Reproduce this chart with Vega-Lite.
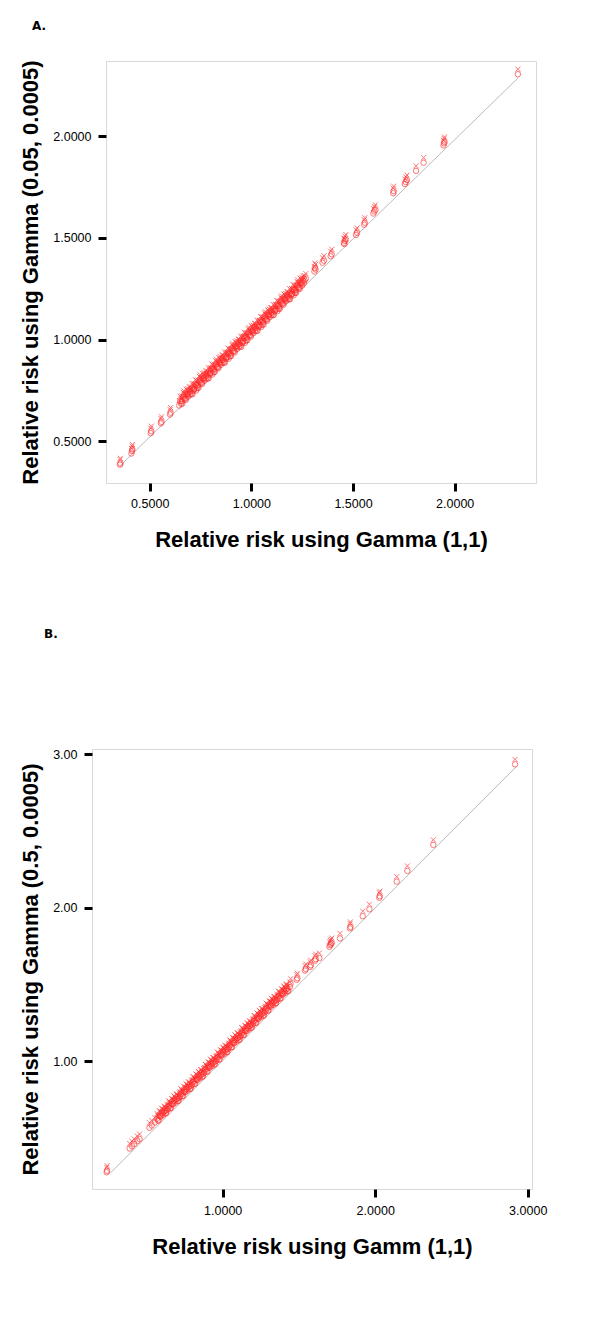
{
  "$schema": "https://vega.github.io/schema/vega-lite/v6.json",
  "background": "white",
  "padding": {"left": 18, "top": 19, "right": 5, "bottom": 5},
  "config": {
    "view": {"stroke": "#d9d9d9", "strokeWidth": 1},
    "axis": {"domain": false, "grid": false, "tickColor": "black", "tickWidth": 3, "tickSize": 8, "labelFont": "Liberation Sans", "labelFontSize": 12.5, "labelColor": "black", "titleFont": "Liberation Sans", "titleFontSize": 22, "titleFontWeight": "bold", "titleColor": "black"},
    "title": {"font": "DejaVu Sans", "fontSize": 12, "fontWeight": "bold", "anchor": "start", "frame": "group", "color": "black"}
  },
  "datasets": {
    "lineA": [{"x": 0.354, "y": 0.379}, {"x": 2.311, "y": 2.286}],
    "lineB": [{"x": 0.261, "y": 0.268}, {"x": 2.923, "y": 2.917}],
    "ptsA": [
      {"x":0.354,"y":0.385},{"x":0.356,"y":0.392},{"x":0.41,"y":0.44},{"x":0.413,"y":0.452},{"x":0.415,"y":0.46},
      {"x":0.505,"y":0.54},{"x":0.508,"y":0.55},{"x":0.555,"y":0.588},{"x":0.558,"y":0.596},{"x":0.6,"y":0.632},{"x":0.603,"y":0.641},{"x":0.645,"y":0.676},
      {"x":0.65,"y":0.697},{"x":0.655,"y":0.684},{"x":0.66,"y":0.685},{"x":0.665,"y":0.716},{"x":0.67,"y":0.711},{"x":0.675,"y":0.71},
      {"x":0.68,"y":0.732},{"x":0.685,"y":0.727},{"x":0.69,"y":0.72},{"x":0.695,"y":0.743},{"x":0.7,"y":0.744},{"x":0.705,"y":0.731},
      {"x":0.71,"y":0.732},{"x":0.715,"y":0.751},{"x":0.72,"y":0.757},{"x":0.725,"y":0.778},{"x":0.73,"y":0.775},{"x":0.735,"y":0.762},
      {"x":0.74,"y":0.763},{"x":0.745,"y":0.794},{"x":0.75,"y":0.789},{"x":0.755,"y":0.788},{"x":0.76,"y":0.81},{"x":0.765,"y":0.805},
      {"x":0.77,"y":0.798},{"x":0.775,"y":0.821},{"x":0.78,"y":0.822},{"x":0.785,"y":0.809},{"x":0.79,"y":0.81},{"x":0.795,"y":0.829},
      {"x":0.8,"y":0.835},{"x":0.805,"y":0.856},{"x":0.81,"y":0.853},{"x":0.815,"y":0.84},{"x":0.82,"y":0.841},{"x":0.825,"y":0.872},
      {"x":0.83,"y":0.866},{"x":0.835,"y":0.865},{"x":0.84,"y":0.888},{"x":0.845,"y":0.883},{"x":0.85,"y":0.876},{"x":0.855,"y":0.899},
      {"x":0.86,"y":0.9},{"x":0.865,"y":0.887},{"x":0.87,"y":0.887},{"x":0.875,"y":0.906},{"x":0.88,"y":0.913},{"x":0.885,"y":0.934},
      {"x":0.89,"y":0.931},{"x":0.895,"y":0.918},{"x":0.9,"y":0.919},{"x":0.905,"y":0.95},{"x":0.91,"y":0.944},{"x":0.915,"y":0.943},
      {"x":0.92,"y":0.966},{"x":0.925,"y":0.961},{"x":0.93,"y":0.954},{"x":0.935,"y":0.977},{"x":0.94,"y":0.978},{"x":0.945,"y":0.965},
      {"x":0.95,"y":0.965},{"x":0.955,"y":0.984},{"x":0.96,"y":0.991},{"x":0.965,"y":1.012},{"x":0.97,"y":1.009},{"x":0.975,"y":0.996},
      {"x":0.98,"y":0.997},{"x":0.985,"y":1.028},{"x":0.99,"y":1.022},{"x":0.995,"y":1.021},{"x":1.0,"y":1.044},{"x":1.005,"y":1.039},
      {"x":1.01,"y":1.032},{"x":1.015,"y":1.055},{"x":1.02,"y":1.056},{"x":1.025,"y":1.043},{"x":1.03,"y":1.043},{"x":1.035,"y":1.062},
      {"x":1.04,"y":1.069},{"x":1.045,"y":1.09},{"x":1.05,"y":1.087},{"x":1.055,"y":1.074},{"x":1.06,"y":1.074},{"x":1.065,"y":1.105},
      {"x":1.07,"y":1.1},{"x":1.075,"y":1.099},{"x":1.08,"y":1.122},{"x":1.085,"y":1.117},{"x":1.09,"y":1.11},{"x":1.095,"y":1.133},
      {"x":1.1,"y":1.133},{"x":1.105,"y":1.12},{"x":1.11,"y":1.121},{"x":1.115,"y":1.14},{"x":1.12,"y":1.147},{"x":1.125,"y":1.168},
      {"x":1.13,"y":1.165},{"x":1.135,"y":1.152},{"x":1.14,"y":1.152},{"x":1.145,"y":1.183},{"x":1.15,"y":1.178},{"x":1.155,"y":1.177},
      {"x":1.16,"y":1.2},{"x":1.165,"y":1.195},{"x":1.17,"y":1.188},{"x":1.175,"y":1.211},{"x":1.18,"y":1.211},{"x":1.185,"y":1.198},
      {"x":1.19,"y":1.199},{"x":1.195,"y":1.218},{"x":1.2,"y":1.225},{"x":1.205,"y":1.246},{"x":1.21,"y":1.243},{"x":1.215,"y":1.23},
      {"x":1.22,"y":1.23},{"x":1.225,"y":1.261},{"x":1.23,"y":1.256},{"x":1.235,"y":1.255},{"x":1.24,"y":1.278},{"x":1.245,"y":1.273},
      {"x":1.25,"y":1.266},{"x":1.255,"y":1.289},
      {"x":0.658,"y":0.698},{"x":0.668,"y":0.724},{"x":0.678,"y":0.704},{"x":0.688,"y":0.735},{"x":0.698,"y":0.731},{"x":0.708,"y":0.759},
      {"x":0.718,"y":0.759},{"x":0.728,"y":0.75},{"x":0.738,"y":0.776},{"x":0.748,"y":0.802},{"x":0.758,"y":0.782},{"x":0.768,"y":0.813},
      {"x":0.778,"y":0.809},{"x":0.788,"y":0.837},{"x":0.798,"y":0.837},{"x":0.808,"y":0.828},{"x":0.818,"y":0.854},{"x":0.828,"y":0.88},
      {"x":0.838,"y":0.859},{"x":0.848,"y":0.891},{"x":0.858,"y":0.887},{"x":0.868,"y":0.915},{"x":0.878,"y":0.914},{"x":0.888,"y":0.906},
      {"x":0.898,"y":0.932},{"x":0.908,"y":0.958},{"x":0.918,"y":0.937},{"x":0.928,"y":0.969},{"x":0.938,"y":0.965},{"x":0.948,"y":0.993},
      {"x":0.958,"y":0.992},{"x":0.968,"y":0.984},{"x":0.978,"y":1.01},{"x":0.988,"y":1.036},{"x":0.998,"y":1.015},{"x":1.008,"y":1.047},
      {"x":1.018,"y":1.043},{"x":1.028,"y":1.071},{"x":1.038,"y":1.07},{"x":1.048,"y":1.062},{"x":1.058,"y":1.088},{"x":1.068,"y":1.113},
      {"x":1.078,"y":1.093},{"x":1.088,"y":1.125},{"x":1.098,"y":1.121},{"x":1.108,"y":1.148},{"x":1.118,"y":1.148},{"x":1.128,"y":1.14},
      {"x":1.138,"y":1.166},{"x":1.148,"y":1.191},{"x":1.158,"y":1.171},{"x":1.168,"y":1.203},{"x":1.178,"y":1.199},{"x":1.188,"y":1.226},
      {"x":1.198,"y":1.226},{"x":1.208,"y":1.218},{"x":1.218,"y":1.244},{"x":1.228,"y":1.269},{"x":1.238,"y":1.249},{"x":1.248,"y":1.281},
      {"x":1.258,"y":1.277},
      {"x":1.262,"y":1.29},{"x":1.268,"y":1.3},{"x":1.31,"y":1.335},{"x":1.316,"y":1.345},{"x":1.312,"y":1.352},
      {"x":1.35,"y":1.378},{"x":1.357,"y":1.388},{"x":1.39,"y":1.41},{"x":1.395,"y":1.42},
      {"x":1.455,"y":1.475},{"x":1.46,"y":1.485},{"x":1.465,"y":1.492},{"x":1.458,"y":1.47},
      {"x":1.515,"y":1.515},{"x":1.52,"y":1.525},{"x":1.555,"y":1.565},{"x":1.558,"y":1.575},
      {"x":1.6,"y":1.62},{"x":1.605,"y":1.63},{"x":1.61,"y":1.638},{"x":1.698,"y":1.72},{"x":1.7,"y":1.73},
      {"x":1.755,"y":1.765},{"x":1.76,"y":1.775},{"x":1.765,"y":1.785},{"x":1.81,"y":1.83},{"x":1.847,"y":1.87},
      {"x":1.945,"y":1.955},{"x":1.948,"y":1.965},{"x":1.95,"y":1.972},{"x":2.311,"y":2.305}
    ],
    "ptsB": [
      {"x":0.239,"y":0.275},{"x":0.242,"y":0.285},
      {"x":0.39,"y":0.43},{"x":0.405,"y":0.445},{"x":0.42,"y":0.46},{"x":0.44,"y":0.478},{"x":0.455,"y":0.492},
      {"x":0.52,"y":0.565},{"x":0.535,"y":0.58},{"x":0.555,"y":0.6},
      {"x":0.57,"y":0.625},{"x":0.575,"y":0.612},{"x":0.58,"y":0.613},{"x":0.59,"y":0.639},{"x":0.595,"y":0.638},{"x":0.6,"y":0.661},
      {"x":0.61,"y":0.649},{"x":0.615,"y":0.672},{"x":0.62,"y":0.673},{"x":0.63,"y":0.661},{"x":0.635,"y":0.68},{"x":0.64,"y":0.687},
      {"x":0.65,"y":0.705},{"x":0.655,"y":0.692},{"x":0.66,"y":0.693},{"x":0.67,"y":0.719},{"x":0.675,"y":0.718},{"x":0.68,"y":0.741},
      {"x":0.69,"y":0.729},{"x":0.695,"y":0.752},{"x":0.7,"y":0.753},{"x":0.71,"y":0.741},{"x":0.715,"y":0.76},{"x":0.72,"y":0.767},
      {"x":0.73,"y":0.784},{"x":0.735,"y":0.771},{"x":0.74,"y":0.772},{"x":0.75,"y":0.798},{"x":0.755,"y":0.797},{"x":0.76,"y":0.82},
      {"x":0.77,"y":0.808},{"x":0.775,"y":0.831},{"x":0.78,"y":0.832},{"x":0.79,"y":0.82},{"x":0.795,"y":0.839},{"x":0.8,"y":0.846},
      {"x":0.81,"y":0.864},{"x":0.815,"y":0.851},{"x":0.82,"y":0.852},{"x":0.83,"y":0.878},{"x":0.835,"y":0.877},{"x":0.84,"y":0.9},
      {"x":0.85,"y":0.888},{"x":0.855,"y":0.911},{"x":0.86,"y":0.912},{"x":0.87,"y":0.9},{"x":0.875,"y":0.919},{"x":0.88,"y":0.926},
      {"x":0.89,"y":0.944},{"x":0.895,"y":0.931},{"x":0.9,"y":0.932},{"x":0.91,"y":0.958},{"x":0.915,"y":0.957},{"x":0.92,"y":0.98},
      {"x":0.93,"y":0.967},{"x":0.935,"y":0.99},{"x":0.94,"y":0.991},{"x":0.95,"y":0.979},{"x":0.955,"y":0.998},{"x":0.96,"y":1.005},
      {"x":0.97,"y":1.023},{"x":0.975,"y":1.01},{"x":0.98,"y":1.011},{"x":0.99,"y":1.037},{"x":0.995,"y":1.036},{"x":1.0,"y":1.059},
      {"x":1.01,"y":1.047},{"x":1.015,"y":1.07},{"x":1.02,"y":1.071},{"x":1.03,"y":1.059},{"x":1.035,"y":1.078},{"x":1.04,"y":1.085},
      {"x":1.05,"y":1.103},{"x":1.055,"y":1.09},{"x":1.06,"y":1.091},{"x":1.07,"y":1.117},{"x":1.075,"y":1.116},{"x":1.08,"y":1.139},
      {"x":1.09,"y":1.127},{"x":1.095,"y":1.15},{"x":1.1,"y":1.151},{"x":1.11,"y":1.139},{"x":1.115,"y":1.158},{"x":1.12,"y":1.165},
      {"x":1.13,"y":1.183},{"x":1.135,"y":1.17},{"x":1.14,"y":1.17},{"x":1.15,"y":1.196},{"x":1.155,"y":1.195},{"x":1.16,"y":1.218},
      {"x":1.17,"y":1.206},{"x":1.175,"y":1.229},{"x":1.18,"y":1.23},{"x":1.19,"y":1.218},{"x":1.195,"y":1.237},{"x":1.2,"y":1.244},
      {"x":1.21,"y":1.262},{"x":1.215,"y":1.249},{"x":1.22,"y":1.25},{"x":1.23,"y":1.276},{"x":1.235,"y":1.275},{"x":1.24,"y":1.298},
      {"x":1.25,"y":1.286},{"x":1.255,"y":1.309},{"x":1.26,"y":1.31},{"x":1.27,"y":1.298},{"x":1.275,"y":1.317},{"x":1.28,"y":1.324},
      {"x":1.29,"y":1.342},{"x":1.295,"y":1.329},{"x":1.3,"y":1.33},{"x":1.31,"y":1.356},{"x":1.315,"y":1.355},{"x":1.32,"y":1.378},
      {"x":1.33,"y":1.366},{"x":1.335,"y":1.389},{"x":1.34,"y":1.389},{"x":1.35,"y":1.377},{"x":1.355,"y":1.396},{"x":1.36,"y":1.403},
      {"x":1.37,"y":1.421},{"x":1.375,"y":1.408},{"x":1.38,"y":1.409},{"x":1.39,"y":1.435},{"x":1.395,"y":1.434},{"x":1.4,"y":1.457},
      {"x":1.41,"y":1.445},{"x":1.415,"y":1.468},{"x":1.42,"y":1.469},{"x":1.43,"y":1.457},{"x":1.44,"y":1.483},
      {"x":0.585,"y":0.644},{"x":0.605,"y":0.656},{"x":0.625,"y":0.66},{"x":0.645,"y":0.708},{"x":0.665,"y":0.724},{"x":0.685,"y":0.736},
      {"x":0.705,"y":0.74},{"x":0.725,"y":0.788},{"x":0.745,"y":0.803},{"x":0.765,"y":0.815},{"x":0.785,"y":0.819},{"x":0.805,"y":0.867},
      {"x":0.825,"y":0.883},{"x":0.845,"y":0.895},{"x":0.865,"y":0.899},{"x":0.885,"y":0.947},{"x":0.905,"y":0.963},{"x":0.925,"y":0.975},
      {"x":0.945,"y":0.978},{"x":0.965,"y":1.026},{"x":0.985,"y":1.042},{"x":1.005,"y":1.054},{"x":1.025,"y":1.058},{"x":1.045,"y":1.106},
      {"x":1.065,"y":1.122},{"x":1.085,"y":1.134},{"x":1.105,"y":1.138},{"x":1.125,"y":1.186},{"x":1.145,"y":1.201},{"x":1.165,"y":1.213},
      {"x":1.185,"y":1.217},{"x":1.205,"y":1.265},{"x":1.225,"y":1.281},{"x":1.245,"y":1.293},{"x":1.265,"y":1.297},{"x":1.285,"y":1.345},
      {"x":1.305,"y":1.361},{"x":1.325,"y":1.373},{"x":1.345,"y":1.376},{"x":1.365,"y":1.424},{"x":1.385,"y":1.44},{"x":1.405,"y":1.452},
      {"x":1.425,"y":1.456},{"x":1.445,"y":1.504},
      {"x":1.485,"y":1.53},{"x":1.49,"y":1.54},{"x":1.54,"y":1.59},{"x":1.545,"y":1.6},{"x":1.573,"y":1.615},{"x":1.578,"y":1.625},
      {"x":1.605,"y":1.655},{"x":1.61,"y":1.665},{"x":1.634,"y":1.672},
      {"x":1.7,"y":1.745},{"x":1.705,"y":1.755},{"x":1.71,"y":1.762},{"x":1.715,"y":1.77},{"x":1.769,"y":1.8},
      {"x":1.835,"y":1.865},{"x":1.838,"y":1.875},{"x":1.918,"y":1.945},{"x":1.962,"y":1.99},
      {"x":2.027,"y":2.065},{"x":2.03,"y":2.075},{"x":2.141,"y":2.17},{"x":2.211,"y":2.24},{"x":2.381,"y":2.41},{"x":2.917,"y":2.935}
    ]
  },
  "vconcat": [
    {
      "spacing": 0,
      "hconcat": [
        {"width": 1, "height": 1, "view": {"stroke": null}, "data": {"values": []}, "mark": "point"},
        {
          "width": 430,
          "height": 422,
          "title": {"text": "A.", "dx": -74, "offset": 27},
          "encoding": {
            "x": {"field": "x", "type": "quantitative", "scale": {"domain": [0.285, 2.4], "nice": false, "zero": false},
                  "axis": {"values": [0.5, 1, 1.5, 2], "format": ".4f", "title": "Relative risk using Gamma (1,1)", "labelPadding": 6, "titlePadding": 20}},
            "y": {"field": "y", "type": "quantitative", "scale": {"domain": [0.295, 2.37], "nice": false, "zero": false},
                  "axis": {"values": [0.5, 1, 1.5, 2], "format": ".4f", "title": "Relative risk using Gamma (0.05, 0.0005)", "labelPadding": 7, "titlePadding": 10}}
          },
          "layer": [
            {"data": {"name": "lineA"}, "mark": {"type": "line", "color": "#a8a8a8", "strokeWidth": 0.8}},
            {"data": {"name": "ptsA"}, "mark": {"type": "point", "shape": "circle", "filled": false, "size": 30, "color": "#ff2a2a", "opacity": 0.65, "strokeWidth": 1}},
            {"data": {"name": "ptsA"}, "mark": {"type": "point", "shape": "M-1,-1L1,1M-1,1L1,-1", "filled": false, "size": 25, "yOffset": -5, "color": "#ff2a2a", "opacity": 0.65, "strokeWidth": 1}}
          ]
        }
      ]
    },
    {
      "spacing": 0,
      "hconcat": [
        {"width": 1, "height": 1, "view": {"stroke": null}, "data": {"values": []}, "mark": "point"},
        {
          "width": 440,
          "height": 440,
          "title": {"text": "B.", "dx": -48, "offset": 107},
          "encoding": {
            "x": {"field": "x", "type": "quantitative", "scale": {"domain": [0.143, 3.028], "nice": false, "zero": false},
                  "axis": {"values": [1, 2, 3], "format": ".4f", "title": "Relative risk using Gamm (1,1)", "labelPadding": 7, "titlePadding": 20}},
            "y": {"field": "y", "type": "quantitative", "scale": {"domain": [0.166, 3.035], "nice": false, "zero": false},
                  "axis": {"values": [1, 2, 3], "format": ".2f", "title": "Relative risk using Gamma (0.5, 0.0005)", "labelPadding": 7, "titlePadding": 10}}
          },
          "layer": [
            {"data": {"name": "lineB"}, "mark": {"type": "line", "color": "#a8a8a8", "strokeWidth": 0.8}},
            {"data": {"name": "ptsB"}, "mark": {"type": "point", "shape": "circle", "filled": false, "size": 30, "color": "#ff2a2a", "opacity": 0.65, "strokeWidth": 1}},
            {"data": {"name": "ptsB"}, "mark": {"type": "point", "shape": "M-1,-1L1,1M-1,1L1,-1", "filled": false, "size": 25, "yOffset": -5, "color": "#ff2a2a", "opacity": 0.65, "strokeWidth": 1}}
          ]
        }
      ]
    }
  ],
  "spacing": 76
}
